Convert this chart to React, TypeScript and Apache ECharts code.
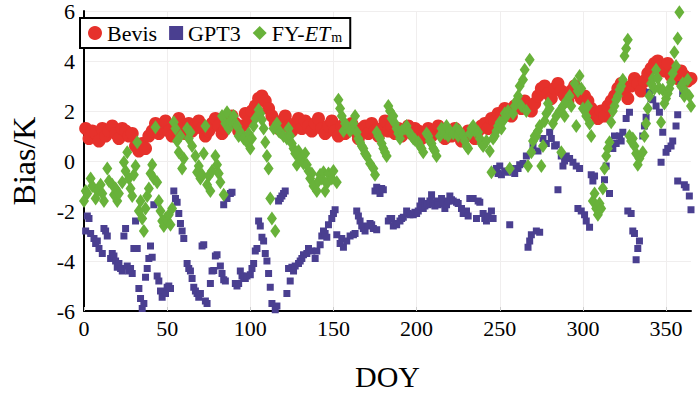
import React, { useEffect, useRef } from "react";
import * as echarts from "echarts";

// ---- data ----
const xTicks = [0, 50, 100, 150, 200, 250, 300, 350];
const yTicks = [-6, -4, -2, 0, 2, 4, 6];
const seriesNames = ["Bevis", "GPT3", "FY-ETm"];

// Bevis: one value every other day starting at DOY 1
const bevisStartDay = 1;
const bevisStep = 2;
const bevisValues = [
  1.3, 0.9, 1.2, 1.1, 0.8, 1.3, 1.0, 1.2, 1.4, 1.1, 0.9, 1.3, 1.2, 1.0, 1.1,
  0.6, 0.4, 0.7, 0.5, 1.0,
  1.2, 1.5, 1.1, 1.3, 1.6, 1.2, 1.0, 1.4, 1.7, 1.3, 1.1, 1.5, 1.2, 1.4, 1.6,
  1.3, 1.0, 1.2, 1.5, 1.7, 1.4, 1.1, 1.3, 1.6, 1.8, 1.5, 1.2, 1.4, 1.9, 1.6,
  2.0, 2.2, 2.5, 2.6, 2.4, 2.1, 1.8,
  1.5, 1.3, 1.6, 1.8, 1.4, 1.2, 1.5, 1.7, 1.3, 1.6, 1.4, 1.2, 1.5, 1.7, 1.3, 1.1, 1.4, 1.6,
  1.2, 1.0, 1.4, 1.1, 1.3, 1.5, 1.2, 0.9, 1.3, 1.4, 1.1, 1.5, 1.2, 1.0, 1.3,
  1.6, 1.2, 1.4, 1.1, 1.3, 1.0, 1.2, 1.4, 1.1, 1.3,
  1.2, 0.9, 1.1, 1.3, 1.0, 1.2, 1.4, 1.1, 0.9, 1.2, 1.0, 1.3, 1.1, 0.8, 1.0,
  1.2, 1.1, 0.9, 1.2, 1.4,
  1.5, 1.3, 1.7, 1.6, 1.9, 1.8, 2.1, 2.0, 1.8, 2.2, 2.3, 2.1, 2.4, 2.2, 2.0,
  2.3, 2.6, 2.9, 3.0, 2.7, 2.5, 2.9, 3.1, 2.8, 2.6, 2.4, 2.8, 3.0, 2.7, 2.5, 2.6, 2.4,
  2.1, 1.9, 1.7, 2.0, 1.8, 2.2, 2.4,
  2.6, 2.9, 3.1, 2.8, 2.5, 3.0, 3.3, 3.1, 2.8, 3.2, 3.5,
  3.7, 3.9, 4.0, 3.8, 3.6, 3.9, 3.4,
  3.5, 3.3, 3.6, 3.4, 3.2, 3.3,
];

const gpt3Points: [number, number][] = [
  [1, -2.8], [2, -2.2], [3, -2.3], [4, -2.9], [6, -3.1], [7, -3.3], [8, -3.2], [9, -3.5], [11, -3.7],
  [12, -2.7], [13, -2.8], [14, -3.0], [16, -3.9], [17, -3.7], [18, -3.8], [19, -4.0], [20, -4.25],
  [21, -4.1], [22, -4.3], [23, -4.4], [24, -3.0], [25, -2.7], [26, -4.2], [27, -4.4], [28, -4.3],
  [29, -4.5], [30, -3.5], [31, -2.4], [32, -3.5], [33, -5.1], [34, -5.5], [35, -5.9], [36, -5.7],
  [37, -4.65], [38, -4.3], [39, -3.9], [40, -3.4], [41, -3.85], [42, -1.75], [44, -4.6], [45, -4.8],
  [46, -5.2], [47, -5.45], [49, -5.3], [50, -5.05], [51, -5.0], [52, -5.1], [54, -1.2], [55, -1.5],
  [56, -1.65], [57, -2.1], [58, -2.5], [59, -2.8], [60, -3.1], [62, -4.1], [63, -4.3], [64, -4.4],
  [65, -4.7], [66, -5.05], [67, -5.2], [68, -5.3], [69, -5.45], [70, -5.3], [71, -3.4], [72, -3.35],
  [73, -5.6], [74, -5.7], [76, -4.9], [77, -4.4], [78, -4.38], [79, -3.8], [80, -3.75], [82, -4.2],
  [83, -4.5], [84, -4.75], [85, -4.8], [84, -1.75], [86, -1.5], [88, -1.3], [89, -1.25], [91, -4.9],
  [92, -5.0], [93, -4.9], [94, -4.4], [95, -4.6], [96, -4.65], [97, -4.7], [98, -4.6], [100, -4.55],
  [101, -4.3], [102, -4.1], [103, -3.6], [104, -3.5], [105, -2.4], [106, -2.6], [107, -3.05],
  [108, -3.2], [109, -3.7], [110, -4.0], [111, -4.5], [112, -5.05], [113, -5.7], [115, -5.95],
  [116, -5.8], [117, -1.6], [118, -1.5], [119, -1.4], [120, -1.3], [121, -1.2], [122, -5.3],
  [123, -4.3], [124, -4.8], [125, -4.25], [126, -4.4], [127, -4.2], [129, -4.1], [130, -4.0],
  [131, -3.9], [132, -3.75], [134, -3.7], [135, -3.5], [137, -3.6], [139, -3.9], [140, -3.6],
  [142, -3.35], [143, -3.0], [144, -2.8], [145, -2.9], [146, -3.05], [147, -2.55], [149, -2.3],
  [150, -2.1], [151, -1.95], [152, -2.95], [154, -3.3], [155, -3.1], [156, -3.45], [158, -3.2],
  [160, -3.0], [162, -2.95], [163, -2.9], [164, -2.0], [165, -2.2], [166, -2.4], [167, -2.6],
  [168, -2.7], [169, -2.8], [171, -2.6], [172, -2.5], [173, -2.55], [174, -2.7], [176, -2.75],
  [175, -1.2], [176, -1.05], [178, -1.3], [179, -1.1], [180, -1.15], [183, -2.4], [184, -2.3],
  [185, -2.3], [186, -2.6], [187, -2.5], [188, -2.55], [190, -2.4], [191, -2.3], [192, -2.25],
  [194, -2.0], [195, -2.1], [196, -2.15], [198, -2.15], [199, -2.05], [200, -2.1], [201, -2.0],
  [202, -1.8], [203, -1.6], [204, -1.9], [205, -1.8], [206, -1.7], [207, -1.75], [208, -1.6],
  [209, -1.35], [210, -1.7], [211, -1.8], [212, -1.6], [213, -1.75], [215, -1.5], [216, -1.7],
  [217, -1.9], [218, -1.75], [219, -1.6], [220, -1.4], [221, -1.55], [222, -1.6], [224, -1.65],
  [225, -1.7], [227, -1.9], [228, -2.1], [230, -2.0], [231, -2.2], [232, -1.5], [234, -1.5],
  [236, -2.3], [237, -1.6], [238, -1.65], [240, -2.1], [241, -2.3], [242, -2.4], [243, -2.2],
  [245, -2.0], [246, -2.3], [248, -0.3], [249, -0.5], [250, -0.2], [251, -0.55], [253, -0.4],
  [255, -0.45], [256, -2.55], [257, -0.3], [259, -0.5], [261, -0.3], [262, -0.15], [264, -0.1],
  [266, 0.2], [267, -3.45], [268, -3.2], [269, -2.95], [270, 0.6], [272, -2.8], [273, 0.4],
  [274, -2.85], [276, 0.9], [278, 0.7], [280, 1.15], [281, 0.9], [283, 0.6], [284, 0.65],
  [285, -1.15], [287, 0.2], [288, -0.2], [289, 0.0], [290, 0.2], [292, 0.1], [294, -0.05],
  [296, -0.2], [297, -1.9], [298, -0.3], [299, -2.0], [301, -2.15], [302, -2.4], [304, -2.65],
  [305, -0.55], [306, -0.8], [307, -0.6], [313, -0.75], [314, -0.2], [316, -1.3], [318, 0.5],
  [319, 1.0], [320, 0.7], [322, 1.0], [323, 0.8], [324, 1.15], [326, 1.7], [327, -2.0], [328, 1.95],
  [329, -2.1], [330, -2.8], [331, -2.9], [332, -3.95], [333, -3.5], [334, -3.2], [336, 1.0],
  [337, 1.4], [338, 1.75], [340, 2.75], [341, 2.5], [342, 2.45], [344, 2.2], [346, 1.95],
  [347, -0.05], [348, 1.15], [350, 0.35], [351, 0.5], [353, 0.6], [354, 0.8], [356, 1.4],
  [357, 1.85], [357, -0.8], [359, 3.05], [360, 2.7], [361, -0.95], [362, -1.05], [364, -1.4],
  [365, -1.95],
];

const fyPoints: [number, number][] = [
  [0, -1.6], [1, -1.2], [2, -1.3], [4, -0.7], [5, -1.0], [7, -1.5], [8, -1.2], [10, -0.95], [11, -1.3],
  [12, -1.6], [14, -0.3], [15, -0.8], [17, -0.95], [18, -1.35], [19, -1.1], [20, -1.6], [21, -1.3],
  [23, -0.85], [24, -0.05], [25, -0.4], [26, 0.35], [27, -0.7], [28, -1.1], [29, -1.4], [30, -0.55],
  [31, -0.2], [32, 0.75], [33, -2.0], [34, -1.6], [35, -2.3], [36, -2.8], [37, -1.9], [38, -1.4],
  [39, -1.1], [40, -0.5], [41, -0.15], [42, -0.7], [43, 1.35], [44, -0.85], [45, -1.6], [46, -2.0],
  [47, -2.4], [48, -2.6], [49, -2.3], [50, -2.4], [51, -2.15], [52, -2.55], [53, -1.9], [54, 1.55],
  [55, 1.3], [56, 0.8], [57, 0.35], [58, 1.0], [59, -0.3], [60, 0.1], [62, 1.3], [63, 0.9],
  [64, 1.15], [65, 0.6], [67, 0.2], [68, -0.45], [69, -0.2], [70, -0.7], [71, -0.55], [72, 0.3],
  [73, 1.4], [74, -0.95], [75, -0.6], [76, -1.2], [77, -0.4], [79, 0.2], [80, -0.15], [81, -0.5],
  [82, -0.85], [84, -1.35], [83, 1.8], [85, 1.5], [86, 1.95], [87, 1.3], [88, 1.6], [90, 1.8],
  [91, 1.5], [92, 1.4], [93, 1.0], [94, 1.15], [96, 0.9], [98, 0.75], [99, 1.1], [100, 0.5],
  [101, 0.9], [102, 1.4], [103, 1.7], [105, 2.05], [106, 1.9], [107, 1.65], [108, 1.3], [109, 0.75],
  [110, 0.2], [111, -0.3], [112, -1.5], [113, -2.3], [115, -2.8], [114, 1.3], [116, 1.5], [117, 1.2],
  [118, 1.15], [120, 1.0], [122, 0.9], [123, 1.3], [124, 1.0], [125, 0.7], [126, 0.5], [127, 0.3],
  [128, -0.15], [129, 0.4], [130, 0.1], [132, -0.1], [133, 0.3], [134, -0.15], [135, -0.4],
  [136, -0.7], [137, -0.5], [138, -1.0], [140, -1.2], [141, -0.8], [142, -0.55], [143, -0.7],
  [144, -0.45], [145, -1.2], [146, -0.9], [147, -0.5], [149, -0.7], [150, -0.4], [152, -0.85],
  [153, 2.45], [154, 2.1], [155, 1.8], [156, 1.2], [157, 1.5], [158, 1.4], [160, 1.2], [162, 1.5],
  [163, 1.8], [164, 1.15], [165, 0.9], [166, 0.75], [167, 0.6], [168, 0.5], [169, 0.3], [170, 0.2],
  [172, -0.1], [174, -0.3], [175, -0.55], [176, 1.15], [177, 1.0], [178, 0.9], [179, 0.7],
  [180, 0.5], [181, 0.35], [182, 0.2], [183, 2.2], [184, 2.0], [185, 1.7], [186, 1.8], [187, 1.5],
  [188, 1.3], [189, 1.1], [190, 0.9], [191, 1.2], [193, 1.3], [194, 1.4], [195, 1.2], [197, 1.0],
  [198, 0.9], [199, 0.85], [201, 0.75], [202, 0.6], [203, 0.5], [204, 0.35], [206, 1.1], [207, 1.0],
  [208, 0.8], [209, 0.7], [210, 0.5], [211, 0.4], [212, 0.2], [214, 1.0], [215, 1.3], [217, 1.1],
  [218, 1.4], [219, 1.0], [220, 1.2], [222, 1.1], [224, 1.3], [225, 1.0], [226, 1.2], [228, 1.0],
  [229, 0.8], [230, 0.6], [231, 0.5], [232, 1.1], [233, 1.3], [234, 1.4], [235, 1.2], [237, 1.15],
  [238, 0.9], [239, 0.7], [240, 0.6], [242, 0.8], [244, 0.4], [245, -0.45], [246, 0.9], [247, 1.0],
  [248, 1.2], [249, 1.4], [250, 1.55], [251, 1.3], [252, 1.6], [253, 1.9], [254, 1.8], [255, 2.0],
  [256, -0.3], [258, 1.9], [259, 2.2], [260, 2.4], [261, 2.6], [262, 3.0], [263, 2.2], [264, 3.25],
  [265, 3.65], [266, 2.0], [267, -0.2], [268, 4.05], [269, 0.35], [270, 0.8], [271, 1.0], [272, 1.0],
  [273, 1.2], [274, 1.4], [275, -0.2], [276, 0.6], [277, 1.6], [278, 1.9], [279, 2.3], [280, 2.1],
  [282, 1.5], [284, 1.8], [286, 2.0], [287, 0.35], [288, 2.2], [289, 1.8], [290, 2.4], [292, 2.6],
  [293, 2.2], [295, 3.1], [296, 1.4], [297, 2.8], [298, 3.4], [299, 2.9], [300, 2.1], [302, 1.8],
  [303, 2.2], [304, 1.5], [305, 1.0], [306, -1.6], [307, -1.3], [308, -1.9], [309, -2.15],
  [310, -1.7], [311, -1.9], [312, -1.1], [313, -0.3], [314, 0.2], [315, 0.5], [316, 0.75],
  [317, 1.55], [318, 2.0], [319, 2.2], [320, 2.45], [321, 2.6], [322, 2.85], [323, 3.0], [324, 3.25],
  [325, 4.2], [326, 4.5], [327, 4.85], [328, 1.0], [329, 0.8], [330, 0.9], [331, 0.6], [332, 0.3],
  [333, -0.15], [334, 0.1], [336, 0.35], [337, 1.0], [338, 1.5], [339, 2.1], [340, 2.6], [341, 3.1],
  [342, 3.3], [343, 2.9], [344, 3.65], [345, 3.3], [346, 2.9], [347, 1.55], [348, 2.85], [349, 2.3],
  [350, 2.5], [351, 2.7], [352, 2.9], [353, 3.15], [354, 3.5], [355, 4.35], [356, 3.8], [357, 4.9],
  [358, 5.95], [359, 3.0], [360, 3.1], [361, 2.6], [362, 2.75], [363, 3.25], [364, 2.6], [365, 2.2],
];

const SERIF = "'Liberation Serif', 'Times New Roman', serif";

export default function App() {
  const ref = useRef<HTMLDivElement>(null);
  useEffect(() => {
    if (!ref.current) return;
    const chart = echarts.init(ref.current, null, { renderer: "svg" });
    const bevisData = bevisValues.map((v, i) => [bevisStartDay + i * bevisStep, v]);
    chart.setOption({
      animation: false,
      backgroundColor: "#ffffff",
      textStyle: { fontFamily: SERIF },
      grid: { left: 77, right: 9, top: 11, bottom: 82, containLabel: false },
      legend: {
        data: seriesNames,
        left: 80,
        top: 18,
        orient: "horizontal",
        itemWidth: 14,
        itemHeight: 14,
        itemGap: 12,
        padding: [4, 8, 4, 8],
        borderColor: "#000",
        borderWidth: 2,
        backgroundColor: "#fff",
        textStyle: {
          fontFamily: SERIF,
          fontSize: 22,
          color: "#000",
          rich: {
            n: { fontFamily: SERIF, fontSize: 22, color: "#000" },
            i: { fontFamily: SERIF, fontSize: 22, fontStyle: "italic", color: "#000" },
            s: { fontFamily: SERIF, fontSize: 14, color: "#000", verticalAlign: "bottom", padding: [8, 0, 0, 1] },
          },
        },
        formatter: (name: string) => (name === "FY-ETm" ? "{n|FY-}{i|ET}{s|m}" : name),
      },
      xAxis: {
        type: "value",
        min: 0,
        max: 365,
        interval: 50,
        name: "DOY",
        nameLocation: "middle",
        nameGap: 50,
        nameTextStyle: { fontFamily: SERIF, fontSize: 30, color: "#000" },
        axisLine: { show: true, onZero: false, lineStyle: { color: "#000", width: 2 } },
        axisTick: { show: true, inside: true, length: 4, lineStyle: { color: "#ccc" }, customValues: xTicks },
        axisLabel: {
          fontFamily: SERIF,
          fontSize: 22,
          color: "#000",
          margin: 6,
          customValues: xTicks,
        },
        splitLine: { show: true, lineStyle: { color: "#f0eeee", width: 1 } },
      },
      yAxis: {
        type: "value",
        min: yTicks[0],
        max: yTicks[yTicks.length - 1],
        interval: 2,
        name: "Bias/K",
        nameLocation: "middle",
        nameGap: 44,
        nameTextStyle: { fontFamily: SERIF, fontSize: 32, color: "#000" },
        axisLine: { show: true, onZero: false, lineStyle: { color: "#000", width: 2 } },
        axisTick: { show: false },
        axisLabel: { fontFamily: SERIF, fontSize: 22, color: "#000", margin: 9 },
        splitLine: { show: true, lineStyle: { color: "#f0eeee", width: 1 } },
      },
      series: [
        {
          name: seriesNames[0],
          type: "scatter",
          symbol: "circle",
          symbolSize: 13,
          itemStyle: { color: "#e6312b", opacity: 1 },
          data: bevisData,
        },
        {
          name: seriesNames[1],
          type: "scatter",
          symbol: "rect",
          symbolSize: 7,
          itemStyle: { color: "#4a3f90", opacity: 1 },
          data: gpt3Points,
        },
        {
          name: seriesNames[2],
          type: "scatter",
          symbol: "diamond",
          symbolSize: [10, 14],
          itemStyle: { color: "#68b23a", opacity: 1 },
          data: fyPoints,
        },
      ],
    });
    return () => chart.dispose();
  }, []);
  return <div ref={ref} style={{ width: 700, height: 396, position: "absolute", left: 0, top: 0 }} />;
}
